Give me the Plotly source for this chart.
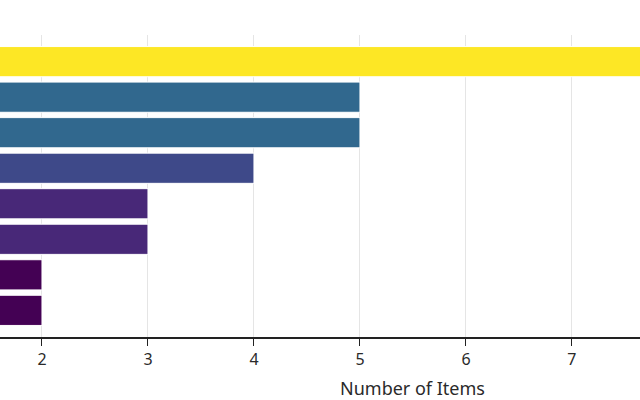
import plotly.graph_objects as go

categories = ["H", "G", "F", "E", "D", "C", "B", "A"]  # bottom to top
values = [2, 2, 3, 3, 4, 5, 5, 11]
x_ticks = [2, 3, 4, 5, 6, 7]

fig = go.Figure(
    go.Bar(
        x=values,
        y=categories,
        orientation="h",
        marker=dict(
            color=values,
            colorscale="Viridis",
            cmin=2,
            cmax=11,
            line=dict(color="white", width=1),
        ),
    )
)

fig.update_layout(
    width=640,
    height=400,
    margin=dict(l=0, r=0, t=35, b=63),
    plot_bgcolor="white",
    paper_bgcolor="white",
    bargap=0.15,
    showlegend=False,
    font=dict(family="Noto Sans", size=16, color="#2a2a2a"),
    annotations=[
        dict(
            text="Number of Items",
            xref="paper",
            yref="paper",
            x=412 / 640,
            y=-(388 - 337) / 302,
            xanchor="center",
            yanchor="middle",
            showarrow=False,
            font=dict(family="Noto Sans", size=18, color="#2a2a2a"),
        )
    ],
)

fig.update_xaxes(
    range=[1.604, 7.642],
    tickvals=x_ticks,
    showgrid=True,
    gridcolor="#e5e5e5",
    gridwidth=1,
    showline=True,
    linecolor="#222222",
    linewidth=2,
    ticks="outside",
    ticklen=7,
    tickcolor="#222222",
    tickfont=dict(size=16),
    zeroline=False,
)

fig.update_yaxes(
    range=[-0.75, 7.75],
    showticklabels=False,
    showgrid=False,
    zeroline=False,
    showline=False,
)

fig.write_html(
    "out.html",
    config={"displayModeBar": False},
    post_script="document.body.style.margin='0';document.body.style.overflow='hidden';",
)
